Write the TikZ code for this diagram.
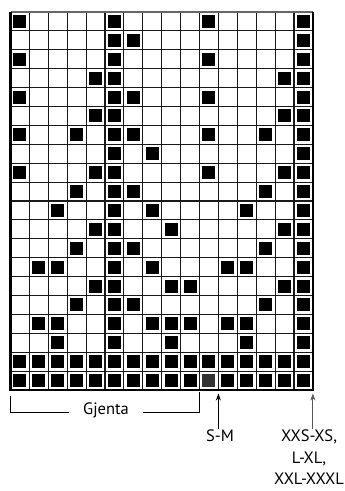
\documentclass[tikz,border=0pt]{standalone}
\usepackage{fontspec}
\setmainfont{PT Sans}
\usepackage{tikz}
\usetikzlibrary{calc,positioning,arrows.meta}

\newcommand{\rute}{18.9}
\newcommand{\xnull}{10.5}
\newcommand{\ynull}{12}

\begin{document}
\begin{tikzpicture}[x=1pt, y=-1pt,
	linje/.style={draw=black!90, line width=1.1pt},
	kant/.style={draw=black, line width=2.4pt},
	fylt/.style={rectangle, fill=black, minimum size=13pt, inner sep=0pt},
	pil/.style={-{Stealth[length=7pt, width=5pt]}, line width=0.9pt},
	tekst/.style={font=\fontsize{16.5}{21.5}\selectfont, align=center}]
	\useasboundingbox (0,0) rectangle (345,491);
	
	\foreach \i in {1,...,15}
		\draw[linje] ({\xnull+\i*\rute},\ynull) -- ({\xnull+\i*\rute},{\ynull+20*\rute});
	\foreach \j in {1,...,19}
		\draw[linje] (\xnull,{\ynull+\j*\rute}) -- ({\xnull+16*\rute},{\ynull+\j*\rute});
	
	\foreach \r/\kol in {1/{1,6,11,16}, 2/{6,7,16}, 3/{1,6,11,16}, 4/{5,6,15,16},
			5/{1,6,7,11,16}, 6/{5,6,15,16}, 7/{1,4,6,7,11,14,16}, 8/{6,8,16},
			9/{1,5,6,11,15,16}, 10/{4,6,7,14,16}, 11/{3,6,8,13,16}, 12/{5,6,9,15,16},
			13/{4,6,7,14,16}, 14/{2,3,6,8,12,13,16}, 15/{5,6,9,10,15,16},
			16/{4,6,7,14,16}, 17/{2,3,6,8,9,10,12,13,16}, 18/{3,6,9,13,16},
			19/{1,...,16}, 20/{1,...,10,12,13,14,15,16}}
		\foreach \c in \kol
			\node[fylt] (m-\r-\c) at ({\xnull+(\c-0.5)*\rute},{\ynull+(\r-0.5)*\rute}) {};
	\node[fylt, fill=black!80] (m-20-11) at ({\xnull+10.5*\rute},{\ynull+19.5*\rute}) {};
	
	\draw[draw=black!60, line width=1.6pt] (\xnull,\ynull) -- ({\xnull+16*\rute},\ynull);
	\draw[kant] (\xnull,\ynull) -- (\xnull,{\ynull+20*\rute})
		-- ({\xnull+16*\rute},{\ynull+20*\rute}) -- ({\xnull+16*\rute},\ynull);
	
	\coordinate (gv) at (\xnull,396);
	\coordinate (gh) at ({\xnull+10*\rute},392);
	\node[tekst, anchor=mid, inner xsep=14pt] (gjenta) at (106,412) {Gjenta};
	\draw[line width=0.8pt] (gv) |- (gjenta.mid west);
	\draw[line width=0.8pt] (gjenta.mid east) -| (gh);
	
	\coordinate (sm-pil) at ({\xnull+11*\rute},393.5);
	\coordinate (xs-pil) at ({\xnull+16*\rute},393.5);
	\node[tekst, anchor=north, inner sep=1pt] (sm) at (220,429) {S-M};
	\node[tekst, anchor=north, inner sep=1pt] (xs) at (309,429) {XXS-XS,\\L-XL,\\XXL-XXXL};
	\draw[pil] (sm.north -| sm-pil) -- (sm-pil);
	\draw[pil, draw=black!65, fill=black!65] (xs.north -| xs-pil) -- (xs-pil);
\end{tikzpicture}
\end{document}
